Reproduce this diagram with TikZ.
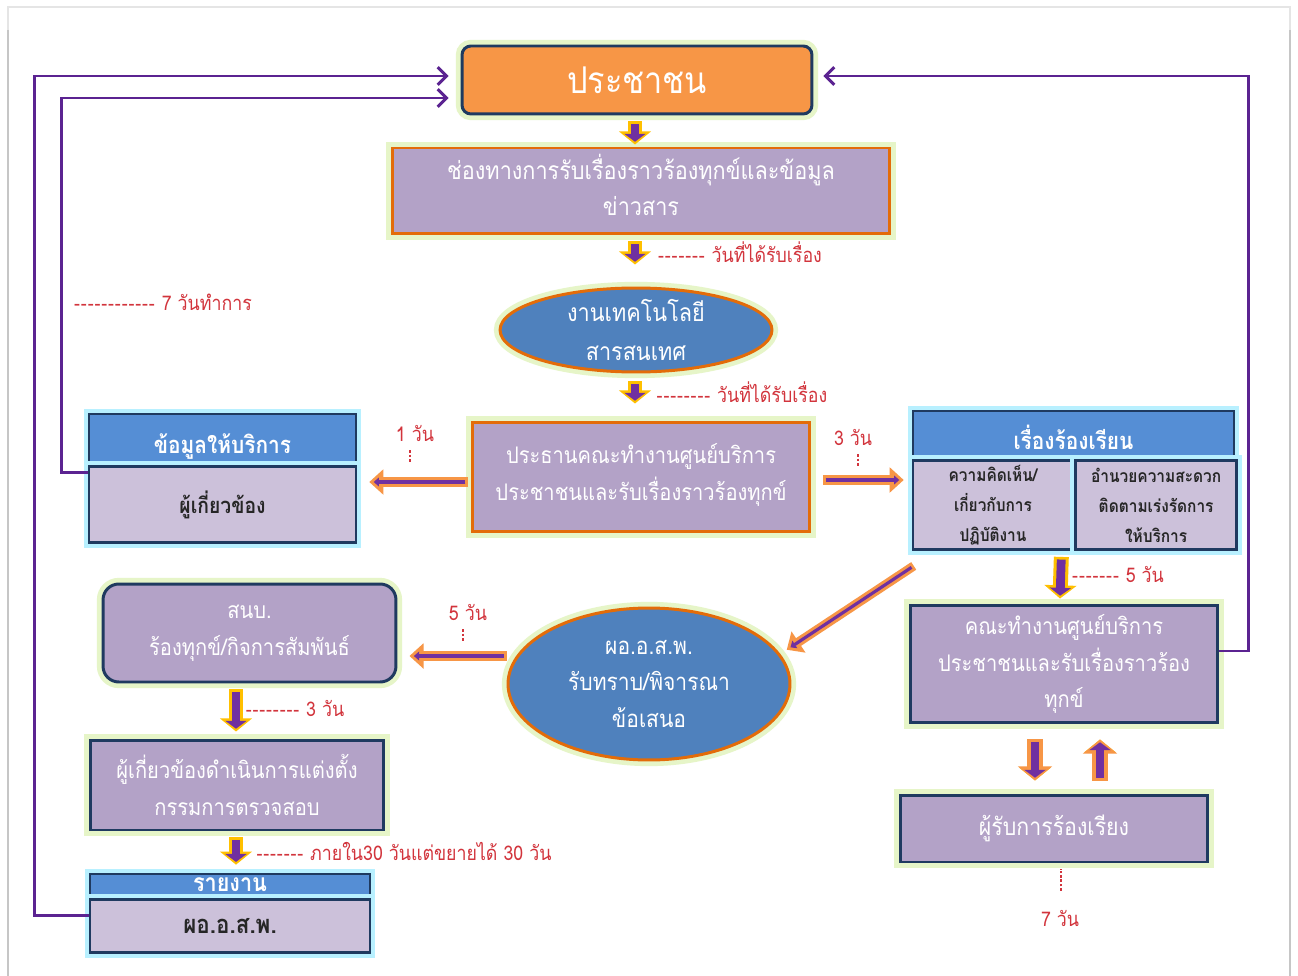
\documentclass[tikz,border=0pt]{standalone}
\usepackage{fontspec}
\setmainfont[Script=Thai,FakeStretch=0.88]{Loma}
\usepackage{xcolor}
\usetikzlibrary{positioning,arrows.meta,shapes.geometric,calc}
\definecolor{boxorange}{HTML}{F79646}
\definecolor{boxpurple}{HTML}{B3A2C7}
\definecolor{lightpurple}{HTML}{CCC1DA}
\definecolor{headblue}{HTML}{558ED5}
\definecolor{ovalblue}{HTML}{4F81BD}
\definecolor{navy}{HTML}{1F3A60}
\definecolor{rimorange}{HTML}{E36C09}
\definecolor{linepurple}{HTML}{5B2391}
\definecolor{arrowpurple}{HTML}{7030A0}
\definecolor{arrowgold}{HTML}{FFC000}
\definecolor{arroworange}{HTML}{F79646}
\definecolor{daytext}{HTML}{D2343C}
\definecolor{glowgreen}{HTML}{E6F5C8}
\definecolor{glowcyan}{HTML}{B8F0FF}
\definecolor{darktext}{HTML}{262626}
\newcommand{\dashrun}[1]{\foreach \k in {1,...,#1}{-\kern0.5pt}}
\newcommand{\fsz}[1]{\fontsize{#1}{21}\selectfont}
\tikzset{green glow/.style={preaction={draw=glowgreen,line width=7pt}},
	cyan glow/.style={preaction={draw=glowcyan,line width=6pt}},
	people box/.style={rectangle,rounded corners=5pt,fill=boxorange,draw=navy,line width=1.7pt,green glow,text=white,font=\fontsize{21}{24}\selectfont},
	navy box/.style={rectangle,fill=boxpurple,draw=navy,line width=1.7pt,green glow,text=white,align=center,inner sep=0pt,font=\fsz{13}},
	rim box/.style={navy box,draw=rimorange},
	blue oval/.style={ellipse,fill=ovalblue,draw=rimorange,line width=1.7pt,green glow,inner sep=0pt},
	oval text/.style={text=white,align=center,font=\fontsize{14}{22}\selectfont},
	head box/.style={rectangle,fill=headblue,draw=navy,line width=1.5pt,cyan glow,text=white,inner sep=0pt,font=\fontsize{13.5}{15}\selectfont\bfseries},
	body box/.style={rectangle,fill=lightpurple,draw=navy,line width=1.5pt,cyan glow,text=darktext,inner sep=0pt,align=center,font=\fontsize{13}{15}\selectfont\bfseries},
	cell text/.style={font=\fontsize{10}{17}\selectfont\bfseries},
	day label/.style={text=daytext,inner sep=1pt,font=\fontsize{11.5}{13}\selectfont},
	tick line/.style={draw=daytext,line width=0.6pt,dash pattern=on 1.5pt off 1pt},
	gold arrow/.style={draw=arrowpurple,line width=5pt,shorten <=1.5pt,-{Triangle[length=4.5pt,width=12pt,sep=1.6pt]},
		preaction={draw=arrowgold,line width=8.5pt,shorten <=0pt,-{Triangle[length=7.5pt,width=18pt]}}},
	orange arrow/.style={gold arrow,preaction={draw=arroworange,line width=9pt,shorten <=0pt,-{Triangle[length=8pt,width=19pt]}}},
	thin arrow/.style={draw=arrowpurple,line width=1.8pt,shorten <=1.5pt,-{Triangle[length=3pt,width=5pt,sep=2.5pt]},
		preaction={draw=arroworange,line width=5.2pt,shorten <=0pt,-{Triangle[length=8pt,width=14pt]}}},
	back line/.style={draw=linepurple,line width=1.7pt,-{Straight Barb[length=5pt,width=10pt,line width=1.7pt]}},
}
\begin{document}
\begin{tikzpicture}[x=0.02cm,y=-0.02cm]
	\useasboundingbox (0,0) rectangle (1298,976);
	\fill[white] (0,0) rectangle (1298,976);
	% card edges
	\draw[gray!20,line width=1pt] (8,980) -- (8,7) -- (1290,7) -- (1290,980);
	\draw[gray!45,line width=1.2pt] (8,30) -- (8,980);
	\draw[gray!45,line width=1.2pt] (1290,30) -- (1290,980);

	\node[people box,minimum width=7cm,minimum height=1.36cm] (people) at (637,80) {ประชาชน};
	\node[rim box,font=\fsz{14},minimum width=9.94cm,minimum height=1.72cm] (channel) at (641,191) {ช่องทางการรับเรื่องราวร้องทุกข์และข้อมูล\\ข่าวสาร\\[-14pt]};
	\node[blue oval,minimum width=5.44cm,minimum height=1.68cm] (tech) at (636,330) {};
	\node[oval text] at (tech) {งานเทคโนโลยี\\สารสนเทศ};
	\node[rim box,minimum width=6.74cm,minimum height=2.2cm] (chair) at (641,477) {ประธานคณะทำงานศูนย์บริการ\\ประชาชนและรับเรื่องราวร้องทุกข์\\[-15pt]};

	\node[head box,minimum width=5.34cm,minimum height=1cm,text height=17.5pt,text depth=1.5pt] (infohead) at (222.5,439) {ข้อมูลให้บริการ};
	\node[body box,font=\fontsize{12.5}{15}\selectfont\bfseries,minimum width=5.34cm,minimum height=1.52cm,below=0pt of infohead] (infobody) {ผู้เกี่ยวข้อง};

	\node[head box,minimum width=6.42cm,minimum height=0.94cm,text height=18pt,text depth=1.4pt] (complaint) at (1073.5,434.5) {เรื่องร้องเรียน};
	\node[body box,cell text,minimum width=3.2cm,minimum height=1.78cm,below right=0pt and 0pt of complaint.south west] (opinion) {ความคิดเห็น/\\เกี่ยวกับการ\\ปฏิบัติงาน};
	\node[body box,cell text,minimum width=3.22cm,minimum height=1.78cm,right=0pt of opinion] (service) {อำนวยความสะดวก\\ติดตามเร่งรัดการ\\ให้บริการ};

	\node[navy box,minimum width=6.16cm,minimum height=2.36cm] (team) at (1064,664) {คณะทำงานศูนย์บริการ\\ประชาชนและรับเรื่องราวร้อง\\ทุกข์};
	\node[navy box,font=\fsz{13.8},minimum width=6.16cm,minimum height=1.34cm] (recv) at (1054,828.5) {ผู้รับการร้องเรียง};

	\node[blue oval,minimum width=5.64cm,minimum height=3.04cm] (director) at (649,684) {};
	\node[oval text,font=\fontsize{13.6}{21}\selectfont] at (director) {ผอ.อ.ส.พ.\\รับทราบ/พิจารณา\\ข้อเสนอ};

	\node[navy box,rounded corners=9pt,minimum width=5.86cm,minimum height=1.96cm] (snb) at (249.5,633) {สนบ.\\ร้องทุกข์/กิจการสัมพันธ์};
	\node[navy box,minimum width=5.88cm,minimum height=1.8cm] (audit) at (237,785) {ผู้เกี่ยวข้องดำเนินการแต่งตั้ง\\กรรมการตรวจสอบ};
	\node[head box,font=\fontsize{14}{15}\selectfont\bfseries,minimum width=5.6cm,minimum height=0.46cm,text height=7pt,text depth=0pt] (reporthead) at (230,885.5) {รายงาน};
	\node[body box,font=\fontsize{14.5}{15}\selectfont\bfseries,minimum width=5.6cm,minimum height=1.06cm,below=0pt of reporthead] (reportbody) {ผอ.อ.ส.พ.};

	% feedback lines
	\draw[back line] ($(reportbody.west)+(0,-11)$) -- ++(-54,0) |- ($(people.west)+(-12,-4)$);
	\draw[back line] ($(infohead.south west)+(0,7)$) -- ++(-26,0) |- ($(people.west)+(-12,18)$);
	\draw[back line] ($(team.east)+(0,-13)$) -- ++(29,0) |- ($(people.east)+(10,-4)$);

	% block arrows
	\draw[gold arrow] ($(people.south)+(-2,6)$) -- ($(channel.north)+(-6,-2)$);
	\draw[gold arrow] ($(channel.south)+(-6,6)$) -- ($(tech.north)+(-1,-22)$);
	\draw[gold arrow] ($(tech.south)+(-1,8)$) -- ($(chair.north)+(-6,-17)$);
	\draw[gold arrow] ($(opinion.south east)+(-13,6)$) -- ($(team.north)+(-4,-5)$);
	\draw[gold arrow] ($(snb.south -| audit.north)+(-1,6)$) -- ($(audit.north)+(-1,-7)$);
	\draw[gold arrow] ($(audit.south)+(-1,6)$) -- ($(reporthead.north)+(6,-8)$);
	\draw[orange arrow] ($(team.south)+(-29,15)$) -- ($(recv.north -| team.south)+(-29,-13)$);
	\draw[orange arrow] ($(recv.north -| team.south)+(36,-13)$) -- ($(team.south)+(36,15)$);

	\draw[thin arrow] ($(chair.west)+(-3,5)$) -- ($(infobody.east |- chair.west)+(12,5)$);
	\draw[thin arrow] ($(chair.east)+(12,3)$) -- ($(chair.east -| opinion.west)+(-8,3)$);
	\draw[thin arrow] ($(opinion.south west)+(2,15)$) -- ($(director.15)+(10,0)$);
	\draw[thin arrow] ($(director.west)+(0,-28)$) -- ($(snb.east |- director.west)+(12,-28)$);

	% day labels
	\node[day label] (d1) at (740,252) {\dashrun{7} วันที่ได้รับเรื่อง};
	\node[day label] (d2) at (742,392) {\dashrun{8} วันที่ได้รับเรื่อง};
	\node[day label] (d3) at (163,302) {\dashrun{12} 7 วันทำการ};
	\node[day label] (d4) at (415,433) {1 วัน};
	\node[day label] (d5) at (853,437) {3 วัน};
	\node[day label] (d6) at (1118,574) {\dashrun{7} 5 วัน};
	\node[day label] (d7) at (468,612) {5 วัน};
	\node[day label] (d8) at (295,708) {\dashrun{8} 3 วัน};
	\node[day label] (d9) at (404,851) {\dashrun{7} ภายใน30 วันแต่ขยายได้ 30 วัน};
	\node[day label] (d10) at (1060,918) {7 วัน};
	\draw[tick line] ($(d4.south)+(-5,7)$) -- ++(0,13);
	\draw[tick line] ($(d5.south)+(5,7)$) -- ++(0,13);
	\draw[tick line] ($(d7.south)+(-5,7)$) -- ++(0,13);
	\draw[tick line] ($(d10.north)+(1,-17)$) -- ++(0,-22);
\end{tikzpicture}
\end{document}
